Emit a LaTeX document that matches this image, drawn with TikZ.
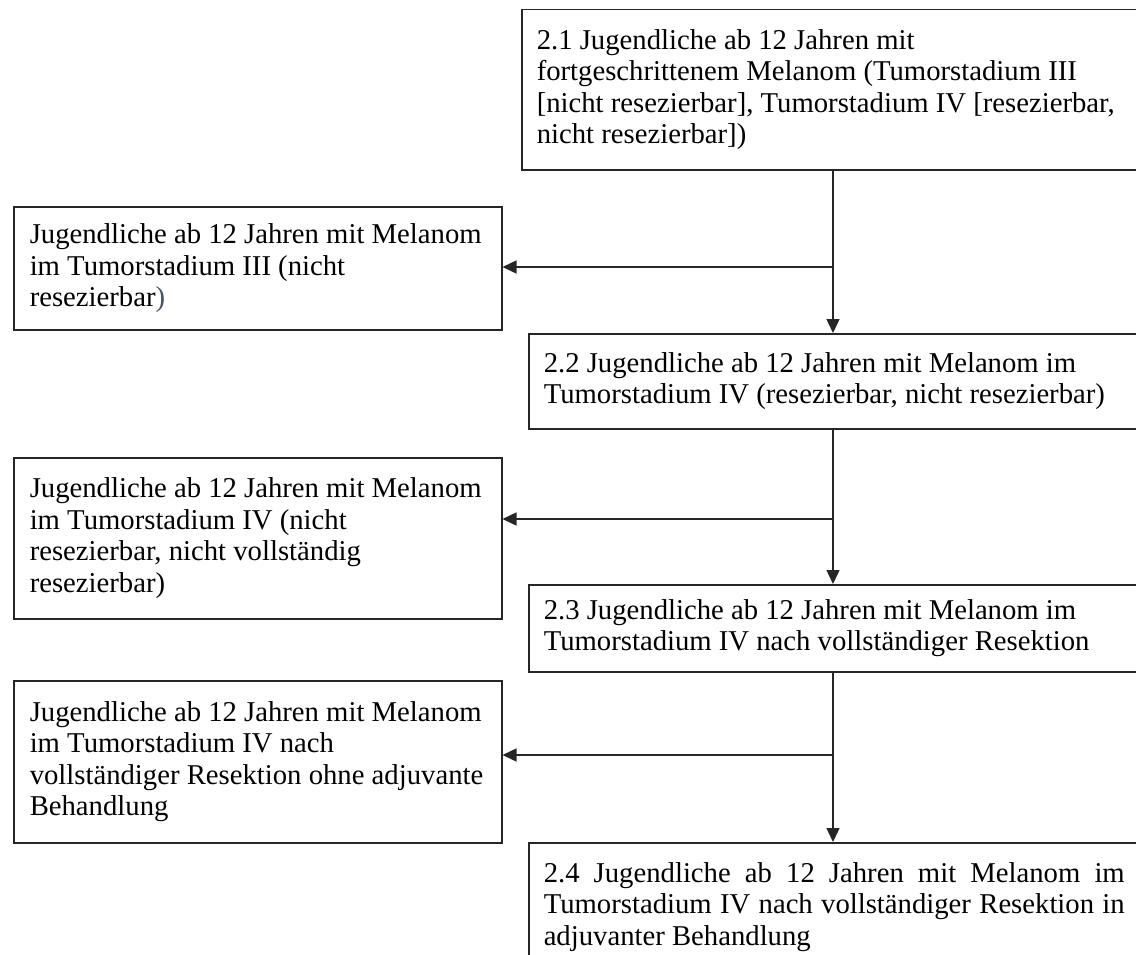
\documentclass[tikz,border=0pt]{standalone}
\usepackage{fontspec}
\setmainfont{Liberation Serif}
\usetikzlibrary{arrows.meta}
\begin{document}
\begin{tikzpicture}[x=1pt,y=-1pt,
  box/.style={draw=black!85, line width=1.5pt, anchor=north west, align=flush left,
    inner xsep=15pt, inner ysep=0pt, font=\fontsize{28.7}{31.5}\selectfont},
  leftbox/.style={box, inner xsep=16pt, text width=456pt},
  rightbox/.style={box, text width=594pt},
  conn/.style={draw=black!85, line width=1.4pt, -{Triangle[length=14pt,width=13pt]}}]
\useasboundingbox (0,0) rectangle (1136,954);
\clip (0,0) rectangle (1136,954);
\fill[white] (0,0) rectangle (1136,954);

\node[box, text width=600pt, minimum height=160.5pt] (a) at (521,8.5)
  {2.1 Jugendliche ab 12 Jahren mit\\
   fortgeschrittenem Melanom (Tumorstadium III\\
   {[}nicht resezierbar], Tumorstadium IV [resezierbar,\\
   nicht resezierbar])};

\node[leftbox, minimum height=123pt] (L1) at (13,206)
  {Jugendliche ab 12 Jahren mit Melanom\\
   im Tumorstadium III (nicht\\
   resezierbar\textcolor[HTML]{44546A}{)}};

\node[rightbox, minimum height=95pt] (b) at (528,333)
  {2.2 Jugendliche ab 12 Jahren mit Melanom im\\
   Tumorstadium IV (resezierbar, nicht resezierbar)};

\node[leftbox, minimum height=161pt] (L2) at (13,457)
  {Jugendliche ab 12 Jahren mit Melanom\\
   im Tumorstadium IV (nicht\\
   resezierbar, nicht vollständig\\
   resezierbar)};

\node[rightbox, minimum height=87pt] (c) at (528,584)
  {2.3 Jugendliche ab 12 Jahren mit Melanom im\\
   Tumorstadium IV nach vollständiger Resektion};

\node[leftbox, minimum height=162pt] (L3) at (13,680)
  {Jugendliche ab 12 Jahren mit Melanom\\
   im Tumorstadium IV nach\\
   vollständiger Resektion ohne adjuvante\\
   Behandlung};

\node[box, align=justify, text width=581pt, minimum height=128pt] (d) at (528,842)
  {2.4 Jugendliche ab 12 Jahren mit Melanom im\linebreak
   Tumorstadium IV nach vollständiger Resektion in\linebreak
   adjuvanter Behandlung};

\coordinate (j1) at (833,267);
\coordinate (j2) at (833,519);
\coordinate (j3) at (833,755);
\draw[conn] (a.south -| j1) -- (b.north -| j1);
\draw[conn] (j1) -- (L1.east |- j1);
\draw[conn] (b.south -| j2) -- (c.north -| j2);
\draw[conn] (j2) -- (L2.east |- j2);
\draw[conn] (c.south -| j3) -- (d.north -| j3);
\draw[conn] (j3) -- (L3.east |- j3);
\end{tikzpicture}
\end{document}
